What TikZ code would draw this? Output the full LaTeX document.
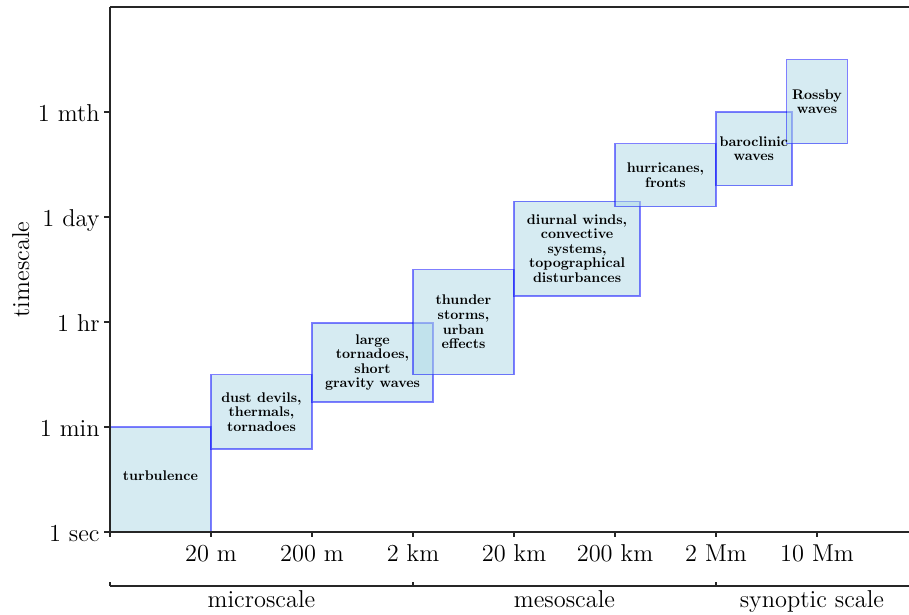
\documentclass[tikz,border=0pt]{standalone}
\usepackage{tikz}
\usetikzlibrary{positioning}

\definecolor{boxfill}{RGB}{173,216,230}
\font\phenfont=cmbx10 at 7pt

\tikzset{
  phen/.style={draw=blue, draw opacity=0.5, fill=boxfill, fill opacity=0.5, line width=0.75pt},
  phenlbl/.style={font=\fontsize{7}{7.3}\selectfont\phenfont, align=center, inner sep=0pt},
  ticklbl/.style={font=\fontsize{12.2}{14}\selectfont, inner sep=0pt},
  spine/.style={line width=0.75pt, black!85},
  tick/.style={line width=0.6pt, black!85}
}

\begin{document}
\begin{tikzpicture}[x=50.5pt, y=52.5pt]		%timescale vs lengthscale
\useasboundingbox (-1.089,-0.781) rectangle (7.911,5.067);

%boxes
\draw[phen] (0,0) rectangle (1,1);			%turbulence
\draw[phen] (1,0.79) rectangle (2,1.5);		%dust devils
\draw[phen] (2,1.24) rectangle (3.2,1.99);	%large tornadoes
\draw[phen] (3,1.5) rectangle (4,2.5);		%thunder storms
\draw[phen] (4,2.25) rectangle (5.25,3.15);	%diurnal winds
\draw[phen] (5,3.1) rectangle (6,3.7);		%hurricanes
\draw[phen] (6,3.3) rectangle (6.75,4.0);	%baroclinic
\draw[phen] (6.7,3.7) rectangle (7.3,4.5);	%Rossby

%box texts
\node[phenlbl] (turb) at (0.5,0.535)  {turbulence};
\node[phenlbl] (dust) at (1.5,1.145)  {dust devils,\\thermals,\\tornadoes};
\node[phenlbl] (ltor) at (2.6,1.615)  {large\\tornadoes,\\short\\gravity waves};
\node[phenlbl] (thun) at (3.5,2.0)    {thunder\\storms,\\urban\\effects};
\node[phenlbl] (diur) at (4.625,2.7)  {diurnal winds,\\convective\\systems,\\topographical\\disturbances};
\node[phenlbl] (hurr) at (5.5,3.4)    {hurricanes,\\fronts};
\node[phenlbl] (baro) at (6.375,3.65) {baroclinic\\waves};
\node[phenlbl] (ross) at (7.0,4.1)    {Rossby\\waves};

%spines
\draw[spine] (0,5)--(0,0)--(7.911,0);		%left + bottom
\draw[spine] (0,5)--(7.911,5);				%top
\draw[spine] (0,-0.515)--(7.911,-0.515);	%scale axis

%x ticks
\draw[tick] (0,0)--(0,-0.045);
\draw[tick] (1,0)--(1,-0.045);
\draw[tick] (2,0)--(2,-0.045);
\draw[tick] (3,0)--(3,-0.045);
\draw[tick] (4,0)--(4,-0.045);
\draw[tick] (5,0)--(5,-0.045);
\draw[tick] (6,0)--(6,-0.045);
\draw[tick] (7,0)--(7,-0.045);
%y ticks
\draw[tick] (0,0)--(-0.06,0);
\draw[tick] (0,1)--(-0.06,1);
\draw[tick] (0,2)--(-0.06,2);
\draw[tick] (0,3)--(-0.06,3);
\draw[tick] (0,4)--(-0.06,4);
%scale ticks
\draw[tick] (0,-0.515)--(0,-0.475);
\draw[tick] (3,-0.515)--(3,-0.475);
\draw[tick] (6,-0.515)--(6,-0.475);

%x tick labels
\node[ticklbl, anchor=base] (x20m)   at (1,-0.276) {20 m};
\node[ticklbl, anchor=base] (x200m)  at (2,-0.276) {200 m};
\node[ticklbl, anchor=base] (x2km)   at (3,-0.276) {2 km};
\node[ticklbl, anchor=base] (x20km)  at (4,-0.276) {20 km};
\node[ticklbl, anchor=base] (x200km) at (5,-0.276) {200 km};
\node[ticklbl, anchor=base] (x2Mm)   at (6,-0.276) {2 Mm};
\node[ticklbl, anchor=base] (x10Mm)  at (7,-0.276) {10 Mm};

%y tick labels
\node[ticklbl, anchor=base east] (ysec) at ([xshift=-5pt,yshift=-4.75pt]0,0) {1 sec};
\node[ticklbl, anchor=base east] (ymin) at ([xshift=-5pt,yshift=-4.75pt]0,1) {1 min};
\node[ticklbl, anchor=base east] (yhr)  at ([xshift=-5pt,yshift=-4.75pt]0,2) {1 hr};
\node[ticklbl, anchor=base east] (yday) at ([xshift=-5pt,yshift=-4.75pt]0,3) {1 day};
\node[ticklbl, anchor=base east] (ymth) at ([xshift=-5pt,yshift=-4.75pt]0,4) {1 mth};

%axis titles
\node[ticklbl, rotate=90, anchor=base] (ylab) at (-0.80,2.5) {timescale};
\node[ticklbl, anchor=base] (micro) at (1.5,-0.714)  {microscale};
\node[ticklbl, anchor=base] (meso)  at (4.5,-0.714)  {mesoscale};
\node[ticklbl, anchor=base] (syn)   at (6.95,-0.714) {synoptic scale};
\end{tikzpicture}
\end{document}
